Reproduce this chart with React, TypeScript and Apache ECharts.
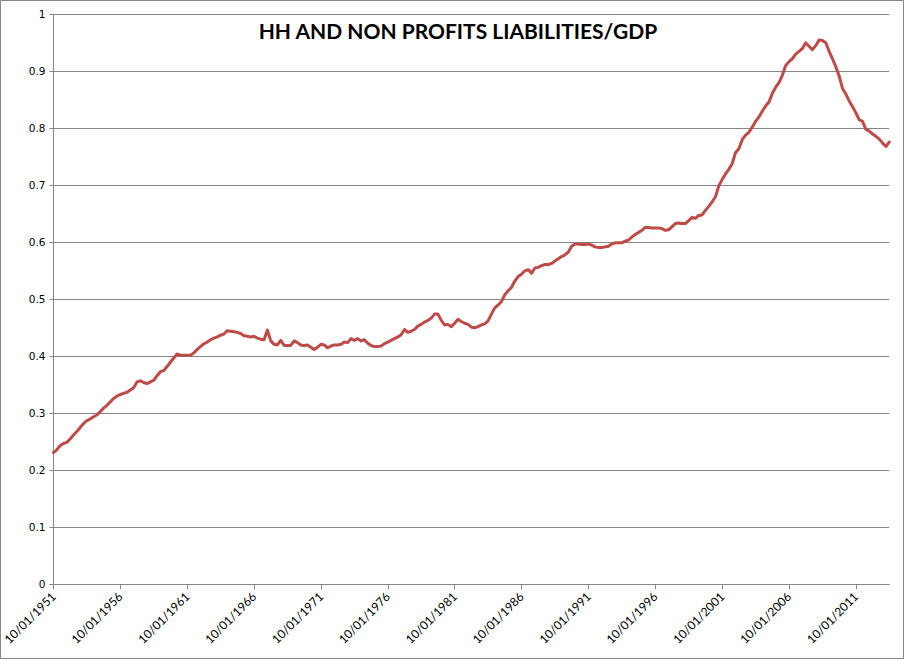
import React, { useEffect, useRef } from "react";
import * as echarts from "echarts";

// Quarterly observations, first quarter 10/01/1951
const START_YEAR = 1951;
const START_MONTH = 10;

const TITLE = "HH AND NON PROFITS LIABILITIES/GDP";

const values1950s = [
  0.231, 0.236, 0.243, 0.247, 0.249, 0.255, 0.262, 0.268, 0.275, 0.282,
  0.287, 0.29, 0.294, 0.297, 0.303, 0.309, 0.314, 0.32, 0.326, 0.33,
  0.333, 0.335, 0.337, 0.341, 0.345, 0.355, 0.357, 0.354, 0.352, 0.355,
  0.358, 0.366, 0.373, 0.375, 0.382, 0.39, 0.397, 0.404, 0.402, 0.402,
];
const values1960s = [
  0.402, 0.402, 0.406, 0.412, 0.417, 0.422, 0.425, 0.429, 0.432, 0.434,
  0.437, 0.439, 0.445, 0.444, 0.443, 0.442, 0.44, 0.436, 0.435, 0.434,
  0.435, 0.432, 0.43, 0.429, 0.446, 0.427, 0.421, 0.42, 0.428, 0.419,
  0.419, 0.419, 0.427, 0.424, 0.42, 0.419, 0.42, 0.416, 0.412, 0.416,
];
const values1970s = [
  0.421, 0.42, 0.415, 0.418, 0.42, 0.42, 0.421, 0.425, 0.424, 0.431,
  0.428, 0.431, 0.427, 0.429, 0.423, 0.419, 0.417, 0.417, 0.418, 0.422,
  0.425, 0.428, 0.431, 0.434, 0.438, 0.447, 0.442, 0.444, 0.447, 0.453,
  0.456, 0.46, 0.463, 0.467, 0.474, 0.474, 0.463, 0.455, 0.456, 0.452,
];
const values1980s = [
  0.458, 0.465, 0.461, 0.458, 0.456, 0.451, 0.45, 0.452, 0.455, 0.457,
  0.462, 0.474, 0.485, 0.49, 0.496, 0.508, 0.515, 0.521, 0.532, 0.54,
  0.544, 0.55, 0.552, 0.546, 0.555, 0.556, 0.559, 0.561, 0.561, 0.563,
  0.567, 0.571, 0.575, 0.578, 0.583, 0.593, 0.597, 0.597, 0.596, 0.596,
];
const values1990s = [
  0.597, 0.595, 0.592, 0.591, 0.591, 0.592, 0.593, 0.597, 0.599, 0.599,
  0.599, 0.602, 0.604, 0.609, 0.614, 0.617, 0.621, 0.626, 0.626, 0.625,
  0.625, 0.625, 0.624, 0.621, 0.622, 0.627, 0.633, 0.634, 0.633, 0.633,
  0.638, 0.644, 0.642, 0.647, 0.648, 0.656, 0.663, 0.671, 0.68, 0.699,
];
const values2000s = [
  0.71, 0.72, 0.728, 0.738, 0.757, 0.764, 0.78, 0.788, 0.793, 0.802,
  0.812, 0.82, 0.83, 0.839, 0.846, 0.861, 0.872, 0.88, 0.893, 0.91,
  0.917, 0.922, 0.93, 0.935, 0.94, 0.95, 0.944, 0.938, 0.945, 0.955,
  0.954, 0.95, 0.935, 0.922, 0.908, 0.892, 0.87, 0.86, 0.848, 0.838,
];
const values2010s = [
  0.827, 0.815, 0.812, 0.798, 0.795, 0.79, 0.786, 0.781, 0.774, 0.768,
  0.776,
];

const values = [
  ...values1950s,
  ...values1960s,
  ...values1970s,
  ...values1980s,
  ...values1990s,
  ...values2000s,
  ...values2010s,
];

const pad = (n: number) => (n < 10 ? "0" + n : "" + n);
const categories: string[] = values.map((_, i) => {
  const m0 = START_MONTH - 1 + i * 3;
  const y = START_YEAR + Math.floor(m0 / 12);
  const m = (m0 % 12) + 1;
  return `${pad(m)}/01/${y}`;
});

const yTicks = { min: 0, max: 1, interval: 0.1 };

export default function App() {
  const ref = useRef<HTMLDivElement>(null);

  useEffect(() => {
    document.body.style.margin = "0";
    const chart = echarts.init(ref.current!, undefined, { renderer: "svg" });
    const gray = "#868686";
    chart.setOption({
      animation: false,
      backgroundColor: "#ffffff",
      title: {
        text: TITLE,
        left: 453,
        top: 15,
        textAlign: "center",
        textStyle: {
          fontFamily: "Lato",
          fontWeight: "bold",
          fontSize: 21,
          color: "#000000",
        },
      },
      graphic: [
        {
          type: "rect",
          shape: { x: 0.5, y: 0.5, width: 903, height: 658 },
          style: { fill: "none", stroke: gray, lineWidth: 1 },
          silent: true,
        },
      ],
      grid: { left: 52.3, right: 19.7, top: 14.3, bottom: 75.7, containLabel: false },
      xAxis: {
        type: "category",
        data: categories,
        boundaryGap: false,
        axisLine: { show: true, lineStyle: { color: gray, width: 1 } },
        axisTick: { show: true, interval: 19, length: 5, lineStyle: { color: gray } },
        axisLabel: {
          interval: 19,
          rotate: 45,
          margin: 10,
          fontFamily: "Lato",
          fontSize: 12,
          color: "#000000",
        },
        splitLine: { show: false },
      },
      yAxis: {
        type: "value",
        min: yTicks.min,
        max: yTicks.max,
        interval: yTicks.interval,
        axisLine: { show: true, lineStyle: { color: gray, width: 1 } },
        axisTick: { show: true, length: 4, lineStyle: { color: gray } },
        axisLabel: {
          margin: 8,
          fontFamily: "DejaVu Sans",
          fontSize: 10.5,
          color: "#000000",
          formatter: (v: number) => String(Math.round(v * 10) / 10),
        },
        splitLine: { show: true, lineStyle: { color: gray, width: 1 } },
      },
      series: [
        {
          type: "line",
          data: values,
          showSymbol: false,
          symbol: "none",
          lineStyle: { color: "#BE4B48", width: 3, join: "round", cap: "round" },
          itemStyle: { color: "#BE4B48" },
        },
      ],
    });
    return () => chart.dispose();
  }, []);

  return (
    <div
      ref={ref}
      style={{ position: "fixed", left: 0, top: 0, width: 909, height: 660 }}
    />
  );
}
